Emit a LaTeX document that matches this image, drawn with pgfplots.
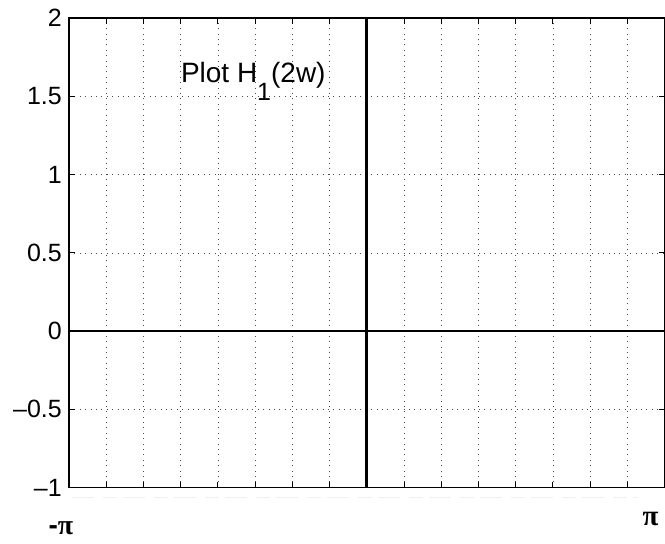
\documentclass[border=0pt]{standalone}
\usepackage{pgfplots}
\pgfplotsset{compat=1.18}
\usepackage{fontspec}
\setmainfont{Liberation Sans}
\newfontfamily\serif{Liberation Serif}
\begin{document}
\begin{tikzpicture}
\begin{axis}[
  at={(0,0)}, anchor=south west,
  scale only axis, width=596pt, height=470pt,
  xmin=-3.14159265, xmax=3.14159265, ymin=-1, ymax=2,
  xtick={-3.14159265,-2.7488936,-2.3561945,-1.9634954,-1.5707963,-1.1780972,-0.7853982,-0.3926991,0,0.3926991,0.7853982,1.1780972,1.5707963,1.9634954,2.3561945,2.7488936,3.14159265},
  xticklabels={},
  ytick={-1,-0.5,0,0.5,1,1.5,2},
  yticklabels={–1,–0.5,0,0.5,1,1.5,2},
  tick align=inside, major tick length=6pt,
  grid=major,
  major grid style={black!70, dash pattern=on 0.8pt off 4.6pt, line width=0.6pt},
  axis line style={line width=1.3pt},
  tick style={black, line width=0.8pt},
  ticklabel style={font=\fontsize{25}{28}\selectfont},
  yticklabel style={inner sep=0pt, xshift=-7pt},
  clip=false,
]
\addplot[black, line width=2.6pt] coordinates {(-3.14159265,0) (3.14159265,0)};
\addplot[black, line width=2.6pt] coordinates {(0,-1) (0,2)};
\node[anchor=base west, font=\fontsize{28}{32}\selectfont, inner sep=0pt] at (axis cs:-1.961,1.59) {Plot H\raisebox{-18pt}{\fontsize{25}{28}\selectfont 1}(2w)};
\node[font=\fontsize{28}{32}\selectfont, inner sep=0pt] at ([xshift=-8pt,yshift=-41pt]rel axis cs:0,0) {\textbf{-}{\serif\bfseries π}};
\node[font=\fontsize{29}{32}\selectfont\serif\bfseries, inner sep=0pt] at ([xshift=-14pt,yshift=-31pt]rel axis cs:1,0) {π};
\draw[gray!12, line width=1pt, dash pattern=on 22pt off 9pt on 14pt off 6pt] ([yshift=-10pt]rel axis cs:0.005,0) -- ([yshift=-10pt]rel axis cs:0.955,0);
\end{axis}
\pgfresetboundingbox
\path[use as bounding box] (-69pt,-56pt) rectangle (596.5pt,488pt);
\end{tikzpicture}
\end{document}
